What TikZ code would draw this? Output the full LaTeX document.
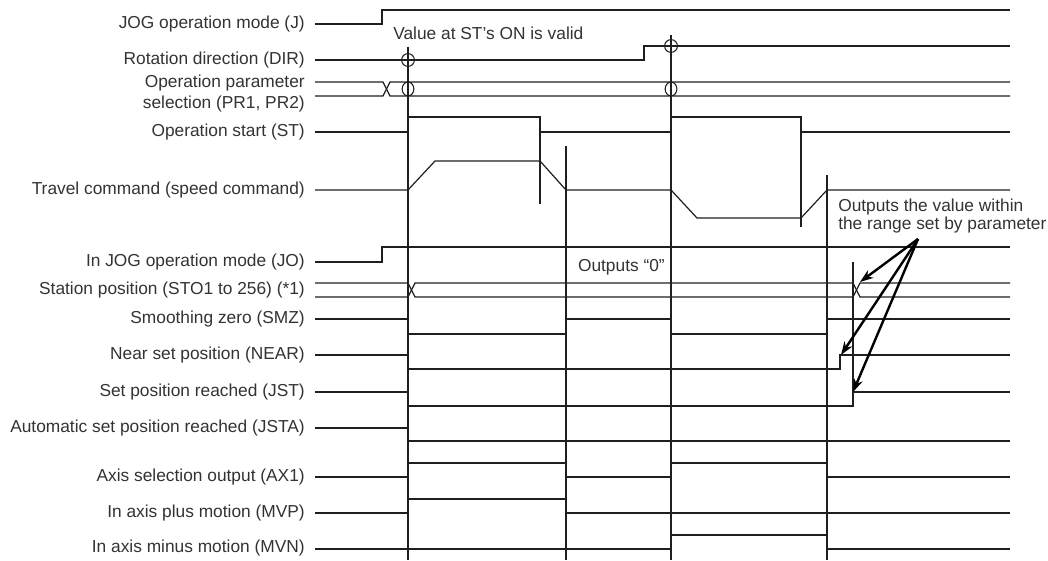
\documentclass[tikz,border=0pt]{standalone}
\usepackage{fontspec}
\setmainfont{Liberation Sans}
\usetikzlibrary{arrows.meta}
\begin{document}
\begin{tikzpicture}[x=0.75pt,y=-0.75pt,
  sig/.style={line width=0.9pt, draw=black!88, line join=miter},
  vln/.style={line width=0.9pt, draw=black!88},
  lbl/.style={anchor=east, text=black!80, font=\fontsize{13}{15.75}\selectfont, inner sep=0pt, align=right},
  note/.style={text=black!80, font=\fontsize{13}{13.5}\selectfont, inner sep=0pt, align=left},
  callout/.style={line width=1.8pt, draw=black, -{Stealth[length=10pt,width=7pt]}},
  validmark/.style={line width=0.8pt, draw=black!88}]
\useasboundingbox (0,0) rectangle (1048,560);
\fill[white] (0,0) rectangle (1048,560);

% labels
\node[lbl] (lJ)    at (305,24)  {JOG operation mode (J)};
\node[lbl] (lDIR)  at (305,60)  {Rotation direction (DIR)};
\node[lbl] (lPR)   at (305,94)  {Operation parameter\\selection (PR1, PR2)};
\node[lbl] (lST)   at (305,132) {Operation start (ST)};
\node[lbl] (lTC)   at (305,190) {Travel command (speed command)};
\node[lbl] (lJO)   at (305,262) {In JOG operation mode (JO)};
\node[lbl] (lSTO)  at (305,290) {Station position (STO1 to 256) (*1)};
\node[lbl] (lSMZ)  at (305,319) {Smoothing zero (SMZ)};
\node[lbl] (lNEAR) at (305,355) {Near set position (NEAR)};
\node[lbl] (lJST)  at (305,392) {Set position reached (JST)};
\node[lbl] (lJSTA) at (305,428) {Automatic set position reached (JSTA)};
\node[lbl] (lAX)   at (305,477) {Axis selection output (AX1)};
\node[lbl] (lMVP)  at (305,513) {In axis plus motion (MVP)};
\node[lbl] (lMVN)  at (305,548) {In axis minus motion (MVN)};

% signals
\draw[sig] (315,24) -- (382,24) -- (382,10) -- (1010,10);
\draw[sig] (315,60) -- (644,60) -- (644,46) -- (1010,46);
\draw[sig] (315,82) -- (383,82) -- (390,96) -- (1010,96);
\draw[sig] (315,96) -- (383,96) -- (390,82) -- (1010,82);
\draw[sig] (315,132) -- (408,132) -- (408,117) -- (540,117) -- (540,132) -- (671,132) -- (671,117) -- (801,117) -- (801,132) -- (1010,132);
\draw[sig] (315,190) -- (408,190) -- (435,161) -- (540,161) -- (566,190) -- (671,190) -- (697,218) -- (801,218) -- (827,190) -- (1010,190);
\draw[sig] (315,262) -- (382,262) -- (382,247) -- (1010,247);
\draw[sig] (315,283) -- (408,283) -- (415,297) -- (853,297) -- (860,283) -- (1010,283);
\draw[sig] (315,297) -- (408,297) -- (415,283) -- (853,283) -- (860,297) -- (1010,297);
\draw[sig] (315,319) -- (408,319) -- (408,334) -- (566,334) -- (566,319) -- (671,319) -- (671,334) -- (827,334) -- (827,319) -- (1010,319);
\draw[sig] (315,355) -- (408,355) -- (408,369) -- (840,369) -- (840,355) -- (1010,355);
\draw[sig] (315,392) -- (408,392) -- (408,406) -- (853,406) -- (853,392) -- (1010,392);
\draw[sig] (315,428) -- (408,428) -- (408,441) -- (1010,441);
\draw[sig] (315,477) -- (408,477) -- (408,463) -- (566,463) -- (566,477) -- (671,477) -- (671,463) -- (827,463) -- (827,477) -- (1010,477);
\draw[sig] (315,513) -- (408,513) -- (408,499) -- (566,499) -- (566,513) -- (1010,513);
\draw[sig] (315,549) -- (671,549) -- (671,535) -- (827,535) -- (827,549) -- (1010,549);

% vertical timing lines
\draw[vln] (408,47) -- (408,560);
\draw[vln] (540,117) -- (540,204);
\draw[vln] (566,146) -- (566,560);
\draw[vln] (671,35) -- (671,560);
\draw[vln] (801,117) -- (801,227);
\draw[vln] (827,175) -- (827,560);
\draw[vln] (853,262) -- (853,406);

% validity marks
\draw[validmark] (408,60) circle[radius=4.8pt];
\draw[validmark] (671,46) circle[radius=4.8pt];
\draw[validmark] (408,89) ellipse[x radius=4.4pt, y radius=5.2pt];
\draw[validmark] (671,89) ellipse[x radius=4.4pt, y radius=5.2pt];

% notes
\node[note, anchor=west] (vOn) at (393,33) {Value at ST’s ON is valid};
\node[note, anchor=east] (out0) at (665,267) {Outputs “0”};
\node[note, anchor=west] (outR) at (838,216) {Outputs the value within\\the range set by parameter};

% callout arrows
\coordinate (src) at (918,239);
\coordinate (tSTO) at (860,282);
\coordinate (tNEAR) at (841,355);
\coordinate (tJST) at (853,392);
\draw[callout] (src) -- (tSTO);
\draw[callout] (src) -- (tNEAR);
\draw[callout] (src) -- (tJST);
\end{tikzpicture}
\end{document}
